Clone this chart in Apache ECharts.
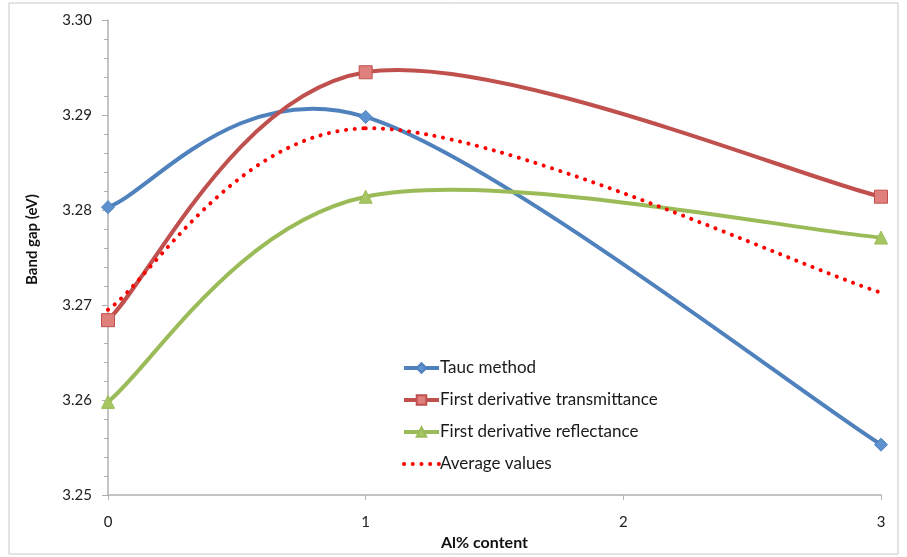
<!DOCTYPE html>
<html>
<head>
<meta charset="utf-8">
<script src="https://cdn.jsdelivr.net/npm/echarts@6/dist/echarts.min.js"></script>
<style>
  html, body { margin: 0; padding: 0; background: #fff; }
  #chart { width: 907px; height: 557px; }
</style>
</head>
<body>
<div id="chart"></div>
<script>
// data
const alContent = [0, 1, 3]
const tauc = [3.2803, 3.2898, 3.2553]
const transmittance = [3.2684, 3.2945, 3.2814]
const reflectance = [3.2598, 3.2814, 3.2771]
const average = [3.2695, 3.2886, 3.2713]
const seriesNames = ['Tauc method', 'First derivative transmittance', 'First derivative reflectance', 'Average values']

const lineColors = ['#4f81bd', '#c0504d', '#9bbb59', '#ff0000']
const font = 'Lato, "Open Sans", sans-serif'
const dots = [0.1, 8.6]

function pairs(ys) {
  return alContent.map((x, i) => [x, ys[i]])
}

// excel style smoothed line (catmull-rom control points, 1/6 of neighbour span)
function smoothLine(ys, color, dash) {
  return function (params, api) {
    if (params.dataIndex !== 0) return null
    const p = ys.map((v, i) => api.coord([alContent[i], v]))
    const children = []
    for (let i = 0; i < p.length - 1; i++) {
      const a = p[i - 1] || p[i]
      const b = p[i]
      const c = p[i + 1]
      const d = p[i + 2] || p[i + 1]
      children.push({
        type: 'bezierCurve',
        shape: {
          x1: b[0], y1: b[1],
          cpx1: b[0] + (c[0] - a[0]) / 6, cpy1: b[1] + (c[1] - a[1]) / 6,
          cpx2: c[0] - (d[0] - b[0]) / 6, cpy2: c[1] - (d[1] - b[1]) / 6,
          x2: c[0], y2: c[1]
        },
        style: { stroke: color, lineWidth: 4, fill: 'none', lineDash: dash || null, lineCap: 'round' }
      })
    }
    return { type: 'group', children }
  }
}

const chart = echarts.init(document.getElementById('chart'))

const curves = [tauc, transmittance, reflectance, average].map((ys, i) => ({
  name: 'curve' + i,
  type: 'custom',
  z: 2,
  silent: true,
  data: pairs(ys),
  renderItem: smoothLine(ys, lineColors[i], i === 3 ? dots : null)
}))

chart.setOption({
  animation: false,
  textStyle: { fontFamily: font },
  graphic: [{
    type: 'rect',
    shape: { x: 9, y: 3, width: 889, height: 551 },
    style: { fill: 'none', stroke: '#c8c8c8', lineWidth: 1 },
    silent: true
  }],
  grid: { left: 108, right: 26, top: 20, bottom: 62 },
  legend: {
    orient: 'vertical',
    left: 402,
    top: 359,
    padding: 0,
    itemGap: 14,
    itemWidth: 35,
    itemHeight: 12,
    textStyle: { fontSize: 17, lineHeight: 18, color: '#1a1a1a', fontFamily: font, padding: [0, 0, 0, -4] },
    data: seriesNames.map((name, i) => ({
      name,
      lineStyle: i === 3
        ? { opacity: 1, color: lineColors[i], width: 4, type: dots, cap: 'round' }
        : { opacity: 1, color: lineColors[i], width: 4 },
      itemStyle: i === 3 ? { opacity: 0 } : undefined
    }))
  },
  xAxis: {
    type: 'value',
    min: 0,
    max: 3,
    interval: 1,
    name: 'Al% content',
    nameLocation: 'middle',
    nameGap: 33,
    nameTextStyle: { fontWeight: 'bold', fontSize: 16, color: '#111', padding: [0, 20, 0, 0] },
    axisLine: { lineStyle: { color: '#b0b0b0', width: 1.5 } },
    axisTick: { show: true, length: 5, lineStyle: { color: '#b0b0b0' } },
    axisLabel: { fontSize: 15, color: '#222', margin: 20 },
    splitLine: { show: false }
  },
  yAxis: {
    type: 'value',
    min: 3.25,
    max: 3.30,
    interval: 0.01,
    name: 'Band gap (eV)',
    nameLocation: 'middle',
    nameGap: 68,
    nameRotate: 90,
    nameTextStyle: { fontWeight: 'bold', fontSize: 15, color: '#111', padding: [0, 0, 0, 36] },
    axisLine: { show: true, lineStyle: { color: '#b0b0b0', width: 1.5 } },
    axisTick: { show: true, length: 6, lineStyle: { color: '#b0b0b0' } },
    minorTick: { show: true, splitNumber: 5, length: 4, lineStyle: { color: '#b0b0b0' } },
    axisLabel: { fontSize: 15, color: '#222', margin: 16, formatter: v => v.toFixed(2) },
    splitLine: { show: false }
  },
  series: curves.concat([{
    name: seriesNames[0],
    type: 'line',
    z: 3,
    data: pairs(tauc),
    symbol: 'diamond',
    symbolSize: 13,
    lineStyle: { color: lineColors[0], opacity: 0 },
    itemStyle: { color: '#5e92cf', borderColor: '#4f81bd', borderWidth: 1 }
  }, {
    name: seriesNames[1],
    type: 'line',
    z: 3,
    data: pairs(transmittance),
    symbol: 'rect',
    symbolSize: 13,
    lineStyle: { color: lineColors[1], opacity: 0 },
    itemStyle: { color: '#e0807d', borderColor: '#c0504d', borderWidth: 1 }
  }, {
    name: seriesNames[2],
    type: 'line',
    z: 3,
    data: pairs(reflectance),
    symbol: 'triangle',
    symbolSize: 13,
    lineStyle: { color: lineColors[2], opacity: 0 },
    itemStyle: { color: '#a5c663', borderColor: '#9bbb59', borderWidth: 1 }
  }, {
    name: seriesNames[3],
    type: 'line',
    z: 3,
    data: pairs(average),
    symbol: 'none',
    lineStyle: { color: lineColors[3], opacity: 0 },
    itemStyle: { color: lineColors[3] }
  }])
})
</script>
</body>
</html>
